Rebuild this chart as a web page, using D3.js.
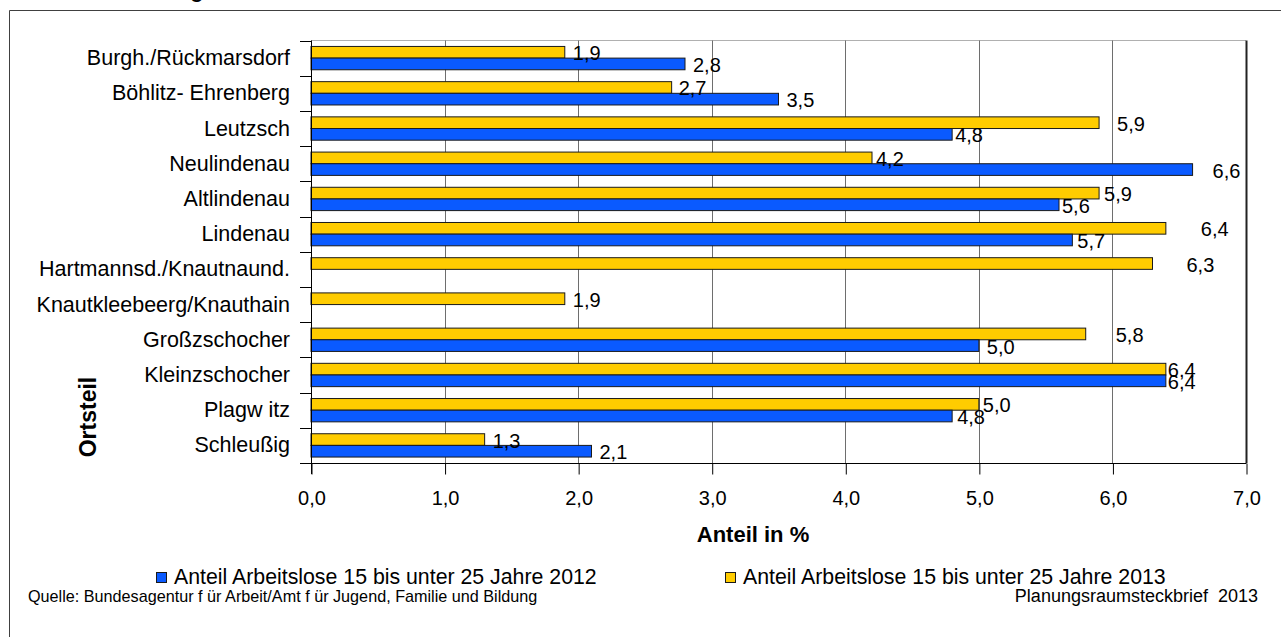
<!DOCTYPE html>
<html>
<head>
<meta charset="utf-8">
<script src="https://cdn.jsdelivr.net/npm/d3@7"></script>
<style>
  html, body { margin: 0; padding: 0; background: #fff; }
  svg { display: block; font-family: "Liberation Sans", Arial, sans-serif; }
</style>
</head>
<body>
<svg id="chart" width="1281" height="637"></svg>
<script>
const categories = [
  "Burgh./Rückmarsdorf",
  "Böhlitz- Ehrenberg",
  "Leutzsch",
  "Neulindenau",
  "Altlindenau",
  "Lindenau",
  "Hartmannsd./Knautnaund.",
  "Knautkleebeerg/Knauthain",
  "Großzschocher",
  "Kleinzschocher",
  "Plagw itz",
  "Schleußig"
];
const values2012 = [2.8, 3.5, 4.8, 6.6, 5.6, 5.7, null, null, 5.0, 6.4, 4.8, 2.1];
const values2013 = [1.9, 2.7, 5.9, 4.2, 5.9, 6.4, 6.3, 1.9, 5.8, 6.4, 5.0, 1.3];
const xTicks = [0, 1, 2, 3, 4, 5, 6, 7];
const seriesNames = ["Anteil Arbeitslose 15 bis unter 25 Jahre 2012", "Anteil Arbeitslose 15 bis unter 25 Jahre 2013"];
const seriesKeys = ["2013", "2012"];
const colors = { "2012": "#0A5AFF", "2013": "#FFCC00" };

// layout: manual label nudges (pixels right of the bar end), as placed in the original
const labelNudge = {
  "2013": [8, 7, 18, 4, 5, 35, 34, 8, 30, 2, 4, 8],
  "2012": [8, 8, 3, 20, 3, 5, 0, 0, 8, 2, 5, 8]
};

const svg = d3.select("#chart");
const plot = { left: 311, right: 1246, top: 40.5, bottom: 463 };

const fmt = v => d3.format(".1f")(v).replace(".", ",");

// outer frame
svg.append("path")
  .attr("d", `M9.5,637 V10.5 H1281`)
  .attr("fill", "none").attr("stroke", "#404040").attr("stroke-width", 1);

// partially visible title
svg.append("text")
  .attr("x", 82).attr("y", -2)
  .attr("font-size", 21).attr("font-weight", "bold")
  .text("Arbeitslosigkeit");

const x = d3.scaleLinear().domain([0, 7]).range([plot.left, plot.right]);
const y = d3.scaleBand().domain(categories).range([plot.top, plot.bottom]).paddingInner(0).paddingOuter(0);
const ySub = d3.scaleBand().domain(seriesKeys).range([0, y.bandwidth()]).paddingInner(0).paddingOuter(0.51);

// plot border top (gray)
svg.append("line")
  .attr("x1", plot.left).attr("x2", plot.right).attr("y1", plot.top).attr("y2", plot.top)
  .attr("stroke", "#b0b0b0").attr("stroke-width", 1);

// vertical grid
svg.append("g").selectAll("line").data(xTicks.slice(1)).join("line")
  .attr("x1", d => Math.round(x(d)) + 0.5).attr("x2", d => Math.round(x(d)) + 0.5)
  .attr("y1", plot.top).attr("y2", plot.bottom)
  .attr("stroke", d => d === 7 ? "#222" : "#6e6e6e").attr("stroke-width", d => d === 7 ? 2 : 1);

// bars
const rows = categories.map((c, i) => ({ cat: c, i, "2012": values2012[i], "2013": values2013[i] }));
const g = svg.append("g");
rows.forEach(r => {
  seriesKeys.forEach(k => {
    const v = r[k];
    if (v == null) return;
    const y0 = y(r.cat) + ySub(k);
    g.append("rect")
      .attr("x", x(0)).attr("y", y0)
      .attr("width", x(v) - x(0)).attr("height", ySub.bandwidth())
      .attr("fill", colors[k]).attr("stroke", "#1a1a1a").attr("stroke-width", 1);
  });
});
// labels
rows.forEach(r => {
  seriesKeys.forEach(k => {
    const v = r[k];
    if (v == null) return;
    const yc = y(r.cat) + ySub(k) + ySub.bandwidth() / 2;
    g.append("text")
      .attr("x", x(v) + labelNudge[k][r.i]).attr("y", yc + 8)
      .attr("font-size", 20).attr("fill", "#000")
      .text(fmt(v));
  });
});

// y axis
const yAxisG = svg.append("g");
yAxisG.append("line")
  .attr("x1", plot.left + 0.5).attr("x2", plot.left + 0.5)
  .attr("y1", plot.top).attr("y2", plot.bottom + 11)
  .attr("stroke", "#000");
const bounds = categories.map(c => y(c)).concat([plot.bottom]);
yAxisG.selectAll("line.tick").data(bounds).join("line").attr("class", "tick")
  .attr("x1", plot.left - 11).attr("x2", plot.left)
  .attr("y1", d => Math.round(d) + 0.5).attr("y2", d => Math.round(d) + 0.5)
  .attr("stroke", "#000");
yAxisG.selectAll("text").data(categories).join("text")
  .attr("x", 290).attr("y", d => y(d) + y.bandwidth() / 2 + 7)
  .attr("text-anchor", "end").attr("font-size", 21.5)
  .text(d => d);

// x axis
const xAxis = d3.axisBottom(x).tickValues(xTicks).tickFormat(fmt).tickSize(11).tickPadding(16);
const xg = svg.append("g").attr("transform", `translate(0.5,${plot.bottom + 0.5})`).call(xAxis);
xg.select(".domain").attr("d", `M${plot.left - 11},0H${plot.right}`).attr("stroke", "#000");
xg.selectAll(".tick line").attr("stroke", "#000");
xg.selectAll(".tick text").attr("font-size", 20).attr("font-family", "Liberation Sans, Arial, sans-serif").attr("fill", "#000");

// axis titles
svg.append("text")
  .attr("x", 753).attr("y", 542)
  .attr("text-anchor", "middle").attr("font-size", 22).attr("font-weight", "bold")
  .text("Anteil in %");
svg.append("text")
  .attr("transform", "translate(96,417) rotate(-90)")
  .attr("text-anchor", "middle").attr("font-size", 23).attr("font-weight", "bold")
  .text("Ortsteil");

// legend
const legendItems = [
  { name: seriesNames[0], color: colors["2012"], x: 156 },
  { name: seriesNames[1], color: colors["2013"], x: 725 }
];
const lg = svg.append("g");
legendItems.forEach(it => {
  lg.append("rect").attr("x", it.x + 0.5).attr("y", 572.5).attr("width", 10).attr("height", 10)
    .attr("fill", it.color).attr("stroke", "#1a1a1a");
  lg.append("text").attr("x", it.x + 18).attr("y", 584)
    .attr("font-size", 21.3).text(it.name);
});

// footer
svg.append("text").attr("x", 28).attr("y", 602).attr("font-size", 16.2)
  .text("Quelle: Bundesagentur f ür Arbeit/Amt f ür Jugend, Familie und Bildung");
svg.append("text").attr("x", 1258).attr("y", 602).attr("font-size", 18).attr("text-anchor", "end")
  .attr("xml:space", "preserve").style("white-space", "pre")
  .text("Planungsraumsteckbrief  2013");
</script>
</body>
</html>
